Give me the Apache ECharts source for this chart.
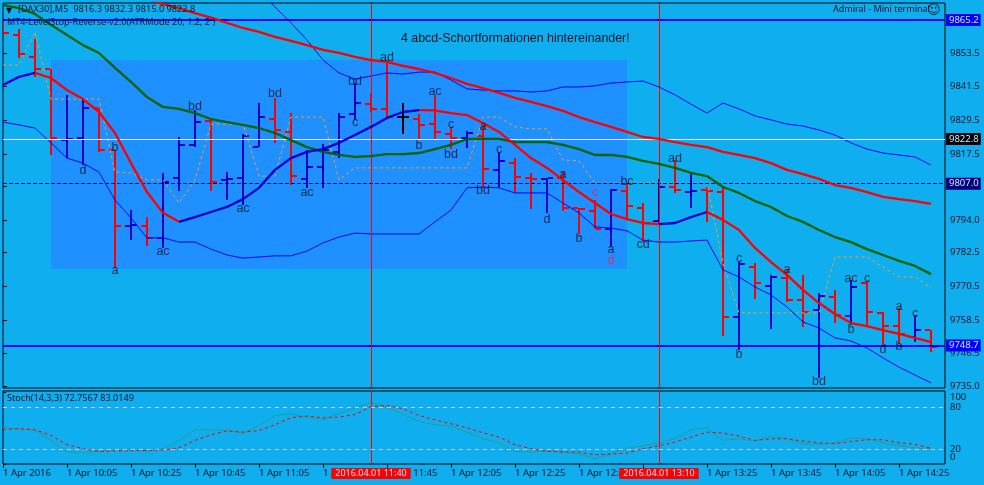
<!DOCTYPE html>
<html><head><meta charset="utf-8">
<style>html,body{margin:0;padding:0;background:#0FAEEE}#c{width:984px;height:485px}</style>
<script src="https://cdn.jsdelivr.net/npm/echarts@6/dist/echarts.min.js"></script>
</head><body><div id="c"></div>
<script>
const opens=[9862.4,9859.9,9852.1,9847.8,9822.5,9823.2,9833.9,9819.0,9791.9,9791.9,
9787.7,9809.0,9820.8,9829.3,9808.3,9809.0,9820.0,9830.0,9825.4,9808.7,
9812.9,9818.3,9831.8,9835.3,9833.6,9830.7,9830.0,9828.2,9824.7,9823.2,
9824.0,9811.9,9814.3,9809.0,9808.7,9809.0,9798.3,9797.3,9790.9,9804.4,
9798.3,9793.7,9805.8,9804.2,9804.7,9804.0,9759.5,9777.3,9770.6,9773.4,
9765.6,9762.0,9766.7,9759.9,9771.6,9761.0,9756.3,9752.4,9754.9];
const highs=[9864.5,9862.0,9858.5,9847.8,9838.6,9837.5,9833.9,9819.0,9797.6,9795.1,
9810.8,9823.6,9833.2,9829.7,9811.1,9824.7,9835.7,9837.5,9832.1,9819.0,
9821.1,9832.1,9842.8,9839.3,9851.0,9835.7,9831.8,9838.6,9827.2,9825.7,
9827.9,9818.3,9816.1,9810.8,9809.0,9811.1,9798.3,9801.2,9805.1,9807.2,
9800.1,9808.7,9815.4,9810.8,9805.8,9805.8,9779.1,9778.8,9774.5,9776.3,
9774.5,9768.1,9769.2,9772.7,9772.4,9761.3,9762.7,9760.3,9754.9];
const lows=[9859.9,9851.7,9845.0,9817.2,9816.1,9813.6,9818.3,9777.0,9786.9,9784.8,
9784.1,9804.4,9820.0,9804.4,9801.2,9799.4,9820.0,9821.5,9806.5,9805.5,
9805.5,9816.1,9829.7,9832.5,9830.7,9824.7,9822.5,9822.9,9819.3,9819.7,
9805.5,9805.8,9804.0,9798.0,9796.6,9797.3,9789.1,9790.9,9784.5,9794.4,
9786.2,9792.3,9803.7,9798.3,9793.4,9752.8,9747.8,9766.0,9755.3,9764.9,
9756.0,9737.8,9757.4,9756.7,9756.3,9748.9,9750.3,9750.6,9747.1];
const closes=[9860.6,9853.1,9847.8,9823.2,9822.9,9833.9,9819.0,9791.9,9792.3,9787.7,
9807.6,9820.8,9828.9,9807.6,9808.7,9824.0,9830.7,9826.1,9809.7,9812.9,
9819.0,9830.7,9835.7,9833.6,9830.7,9830.7,9827.9,9825.4,9823.2,9825.0,
9812.2,9815.1,9809.4,9808.7,9809.0,9798.3,9798.1,9790.9,9804.7,9799.0,
9793.0,9805.8,9804.7,9804.4,9804.5,9759.5,9778.4,9771.6,9773.8,9765.6,
9761.3,9767.0,9760.3,9770.2,9761.3,9756.3,9753.5,9754.9,9748.9];
const emaFast=[9842.1,9845.0,9846.4,9844.6,9840.3,9837.1,9832.5,9825.0,9814.3,9804.0,
9796.6,9793.4,9795.1,9796.9,9798.7,9801.5,9805.5,9811.9,9816.1,9818.3,
9819.3,9821.5,9824.3,9827.2,9830.4,9832.5,9833.2,9833.1,9832.1,9831.4,
9828.6,9825.4,9820.8,9816.1,9812.6,9808.3,9804.0,9800.1,9796.2,9794.4,
9793.0,9792.6,9793.0,9795.1,9796.9,9794.1,9790.5,9784.1,9779.1,9774.5,
9769.2,9764.5,9760.6,9757.4,9756.3,9754.9,9753.5,9752.1,9750.6];
const maGreen=[9870.6,9869.5,9867.4,9863.5,9859.9,9856.3,9853.5,9848.2,9843.2,9837.8,
9834.3,9833.6,9832.1,9830.0,9828.9,9827.9,9826.8,9825.0,9822.5,9820.0,
9818.3,9817.2,9816.5,9816.8,9817.5,9817.5,9817.9,9819.3,9820.8,9822.9,
9822.9,9822.9,9821.8,9821.8,9821.8,9820.8,9819.3,9817.2,9817.2,9816.5,
9815.1,9814.0,9812.6,9810.8,9809.7,9805.8,9803.7,9800.8,9798.7,9795.5,
9793.4,9790.5,9788.0,9786.2,9783.7,9781.6,9779.5,9777.7,9774.8];
const maRed=[null,null,null,null,null,null,null,null,null,9872.7,
9870.9,9869.5,9867.7,9866.1,9864.2,9862.4,9861.0,9859.2,9857.8,9856.3,
9854.6,9853.5,9852.1,9851.0,9850.3,9848.9,9847.8,9846.4,9844.6,9842.5,
9841.0,9839.3,9837.5,9836.1,9834.6,9832.9,9830.7,9828.9,9827.2,9825.4,
9823.6,9822.9,9821.8,9820.8,9820.0,9818.3,9817.2,9816.1,9814.3,9811.9,
9810.4,9808.7,9806.5,9805.5,9804.0,9802.3,9801.5,9800.8,9799.8];
const bandUpper=[null,null,null,null,null,null,null,null,null,null,
null,null,null,null,null,null,9875.2,9869.9,9864.2,9858.1,
9851.0,9846.4,9844.2,9845.3,9846.4,9846.0,9846.7,9846.7,9843.9,9840.7,
9840.3,9840.0,9840.0,9839.6,9840.0,9841.4,9841.4,9841.8,9842.8,9843.2,
9843.5,9841.4,9838.6,9835.3,9832.1,9835.7,9833.6,9831.1,9829.7,9828.2,
9827.5,9826.1,9824.3,9821.5,9819.3,9817.9,9817.2,9816.5,9813.6];
const bandLower=[9828.9,9827.9,9826.8,9821.5,9816.1,9814.3,9811.1,9801.2,9794.8,9787.7,
9787.7,9786.2,9786.2,9783.7,9781.6,9780.5,9780.9,9781.3,9781.3,9783.0,
9785.9,9788.0,9789.4,9789.1,9789.1,9789.1,9789.1,9793.4,9797.6,9805.5,
9805.8,9805.5,9803.7,9803.7,9803.7,9800.1,9796.6,9791.6,9791.2,9790.2,
9786.9,9786.2,9786.2,9786.6,9786.9,9776.3,9773.8,9770.2,9767.4,9763.1,
9757.8,9755.6,9752.1,9751.0,9748.5,9745.0,9741.7,9738.9,9736.1];
const stopLine=[9849.2,9849.2,9861.0,9837.1,9837.1,9837.1,9837.1,9811.1,9810.8,9808.3,
9808.3,9800.1,9808.3,9828.2,9828.2,9828.2,9809.7,9809.7,9830.7,9830.7,
9830.7,9808.3,9812.6,9812.6,9812.6,9812.6,9812.6,9812.6,9812.6,9812.6,
9830.7,9830.7,9827.2,9826.5,9826.5,9815.4,9815.1,9807.2,9807.2,9807.2,
9807.2,9807.2,9807.2,9807.2,9807.2,9778.8,9761.0,9761.0,9761.0,9761.0,
9761.0,9761.0,9780.9,9780.9,9780.9,9777.3,9773.8,9773.8,9769.9];
const stochSignal=[48.5,49.4,48.0,40.1,27.0,21.4,17.6,18.1,18.6,19.0,
19.5,22.8,33.1,41.0,46.2,44.7,47.1,55.0,64.9,67.2,
64.9,65.8,69.5,80.3,82.1,77.5,68.1,62.0,56.4,50.8,
43.8,37.7,27.0,21.4,17.6,16.7,16.7,13.0,13.9,15.3,
21.4,25.6,30.7,37.7,44.7,43.3,39.1,33.1,35.4,35.4,
32.1,29.8,28.4,31.7,34.0,34.0,29.8,27.5,22.3];
const stochMain=[50.8,49.4,47.1,33.1,16.7,15.3,18.1,20.0,20.0,17.6,
21.4,33.1,48.0,48.0,47.1,43.3,54.1,68.1,70.5,65.8,
62.0,70.5,78.9,85.9,79.8,69.5,59.7,55.0,53.2,44.7,
35.4,29.8,17.6,16.7,19.0,16.7,14.4,7.4,14.4,21.4,
26.0,29.3,35.4,48.0,50.8,33.1,35.4,32.1,39.1,35.4,
28.4,27.5,29.8,36.8,35.4,29.8,26.0,22.8,21.4];
const noteText=['d','b','a','ac','bd','bd','ac','ac','bd','c','ad','b','ac','c','bd','a','bd','c','d','a','b','c','a','d','bc','cd','ad','c','b','a','bd','ac','b','c','d','a','b','c'];
const noteBar=[5,7,7,10,12,17,15,19,22,22,24,26,27,28,28,30,30,31,34,35,36,37,38,38,39,40,42,46,46,49,51,53,53,54,55,56,56,57];
const notePrice=[9811.5,9819.7,9775.9,9783.0,9834.3,9838.9,9798.3,9803.7,9843.2,9828.6,9851.7,9820.4,9839.6,9828.2,9817.2,9827.2,9804.4,9819.0,9794.1,9810.4,9787.3,9803.7,9783.7,9779.5,9807.6,9785.2,9815.8,9780.2,9746.0,9776.6,9736.4,9773.4,9754.9,9773.1,9747.8,9763.1,9749.2,9760.6];
const notePink=[21,23];
const tickLabels=['1 Apr 2016','1 Apr 10:05','1 Apr 10:25','1 Apr 10:45','1 Apr 11:05','1 Apr 11:25','1 Apr 11:45','1 Apr 12:05','1 Apr 12:25','1 Apr 12:45','1 Apr 13:05','1 Apr 13:25','1 Apr 13:45','1 Apr 14:05','1 Apr 14:25'];
const priceTicks=[9853.5,9841.5,9829.5,9817.5,9806.0,9794.0,9782.5,9770.5,9758.5,9746.5,9735.0];
const stochTicks=[100,80,20,0];
const stochLevels=[80,20];
const timeMarks=[[23,'2016.04.01 11:40'],[41,'2016.04.01 13:10']];
const priceLevels=[[9865.2,'#0000FF','solid',2,'#0000FF','9865.2'],[9822.9,'#E4E8EC','solid',1,'#000000','9822.8'],[9807.0,'#000080','dashed',1,'#000080','9807.0'],[9749.4,'#0000FF','solid',2,'#0000FF','9748.7']];
const zoneBars=[3,39], zonePrices=[9851.0,9776.6];

const TXT='Noto Sans', BG='#0FAEEE';
const idx=a=>a.map((v,i)=>[i,v]);
const up=emaFast.map((v,i)=>((i>0&&v>=emaFast[i-1])||(i<emaFast.length-1&&emaFast[i+1]>=v))?v:null);
const dn=emaFast.map((v,i)=>((i>0&&v<emaFast[i-1])||(i<emaFast.length-1&&emaFast[i+1]<v))?v:null);
const plain=(name,d,color,width,z,type,xi)=>({type:'line',name,data:idx(d),xAxisIndex:xi||0,yAxisIndex:xi||0,symbol:'none',silent:true,z,
  lineStyle:{color,width,type:type||'solid'},connectNulls:false});
const vline=(xi,withLabel)=>({xAxisIndex:xi,yAxisIndex:xi,type:'line',data:[],silent:true,z:2,
  markLine:{silent:true,symbol:'none',animation:false,data:timeMarks.map(t=>({xAxis:t[0],name:t[1]})),
    lineStyle:{color:'#FF0000',width:1,type:'solid'},
    label:withLabel?{show:true,position:'start',distance:4,formatter:p=>p.name,color:'#CFE6FF',backgroundColor:'#FF0000',padding:[1,4,1,4],fontSize:9,fontFamily:TXT}:{show:false}}});
const lab={color:'#001428',fontSize:9.5,fontFamily:TXT};

const chart=echarts.init(document.getElementById('c'),null,{renderer:'canvas'});
chart.setOption({
 animation:false,backgroundColor:BG,
 grid:[{left:3,top:3,width:942,height:385,show:true,borderColor:'#000',borderWidth:1,backgroundColor:'transparent',outerBoundsMode:'none'},
       {left:3,top:391,width:942,height:73,show:true,borderColor:'#000',borderWidth:1,backgroundColor:'transparent',outerBoundsMode:'none'}],
 xAxis:[{type:'value',gridIndex:0,min:0,max:58.875,axisLabel:{show:false},axisTick:{show:false},axisLine:{show:false},splitLine:{show:false}},
        {type:'value',gridIndex:1,min:0,max:58.875,splitLine:{show:false},axisLine:{show:false},
         axisTick:{show:true,length:4,inside:false,customValues:tickLabels.map((_,i)=>i*4),lineStyle:{color:'#000'}},
         axisLabel:{show:true,customValues:tickLabels.map((_,i)=>i*4),align:'left',margin:4,...lab,hideOverlap:false,formatter:v=>tickLabels[Math.round(v/4)]}}],
 yAxis:[{type:'value',gridIndex:0,position:'right',min:9734.27,max:9871.29,splitLine:{show:false},axisLine:{show:false},
         axisTick:{show:true,length:4,customValues:priceTicks,lineStyle:{color:'#000'}},
         axisLabel:{show:true,customValues:priceTicks,margin:5,...lab,formatter:v=>v.toFixed(1)}},
        {type:'value',gridIndex:1,position:'right',min:0,max:102.4,splitLine:{show:false},axisLine:{show:false},
         axisTick:{show:true,length:3,customValues:stochTicks,lineStyle:{color:'#000'}},
         axisLabel:{show:true,customValues:stochLevels,margin:5,...lab,formatter:v=>''+v}}],
 series:[
  {type:'line',data:[],silent:true,z:1,markArea:{silent:true,animation:false,itemStyle:{color:'#1E90FF',opacity:1},
    data:[[{xAxis:zoneBars[0],yAxis:zonePrices[0]},{xAxis:zoneBars[1],yAxis:zonePrices[1]}]]}},
  {type:'line',data:[],silent:true,z:2,markLine:{silent:true,symbol:'none',animation:false,
    data:priceLevels.map(l=>({yAxis:l[0],lineStyle:{color:l[1],type:l[2],width:l[3]},
      label:{show:true,position:'end',distance:1,formatter:l[5],color:'#CFE6FF',backgroundColor:l[4],padding:[1,2,1,3],fontSize:9.5,fontFamily:TXT}}))}},
  vline(0,false),
  {type:'custom',name:'ohlc',data:opens.map((o,i)=>[i,o,highs[i],lows[i],closes[i]]),encode:{x:0,y:[1,2,3,4]},z:3,silent:true,clip:true,
   renderItem:(p,api)=>{
     const k=api.value(0),o=api.value(1),h=api.value(2),l=api.value(3),c=api.value(4);
     const col=c===o?'#000000':(c>o?'#0000CD':'#FF0000');
     const X=Math.round(api.coord([k,o])[0]);
     const Y=v=>Math.round(api.coord([k,v])[1]);
     const r=(x,y,w,hh)=>({type:'rect',shape:{x,y,width:w,height:hh},style:{fill:col}});
     return {type:'group',children:[r(X-1,Y(h),2,Math.max(Y(l)-Y(h),1)),r(X-6,Y(o)-1,5,2),r(X+1,Y(c)-1,5,2)]};
   }},
  plain('stop',stopLine,'#F0A020',1,4,[3,3]),
  plain('upper',bandUpper,'#0000FF',1,4),
  plain('lower',bandLower,'#0000FF',1,4),
  plain('maRed',maRed,'#FF0000',2.3,5),
  plain('maGreen',maGreen,'#006400',2.3,5),
  plain('emaUp',up,'#0000CD',2.3,5),
  plain('emaDown',dn,'#FF0000',2.3,5),
  {type:'scatter',data:noteText.map((t,i)=>({value:[noteBar[i],notePrice[i]],name:t,
      label:{color:notePink.includes(i)?'#F02050':'#001428'}})),symbolSize:0,z:6,silent:true,clip:false,
   label:{show:true,position:'inside',offset:[0,1],formatter:p=>p.name,fontSize:12.5,fontFamily:'Liberation Sans'},labelLayout:{hideOverlap:false}},
  vline(1,true),
  {type:'line',xAxisIndex:1,yAxisIndex:1,data:[],silent:true,z:2,markLine:{silent:true,symbol:'none',animation:false,
    data:stochLevels.map(v=>({yAxis:v})),label:{show:false},lineStyle:{color:'#C8D4DC',width:1,type:[4,4]}}},
  plain('stochMain',stochMain,'#20A090',1,4,'solid',1),
  plain('stochSignal',stochSignal,'#FF0000',1,5,[3,3],1)
 ],
 graphic:[
  {type:'text',left:6,top:7,z:20,style:{text:'▼',font:'8px "DejaVu Sans"',fill:'#001428'}},
  {type:'text',left:18,top:5,z:20,style:{text:'[DAX30],M5  9816.3 9832.3 9815.0 9822.8',font:'9.2px "Noto Sans"',fill:'#001428'}},
  {type:'text',left:7,top:18,z:20,style:{text:'MT4-LevelStop-Reverse-v2.0(ATRMode 20, 1.2, 2 )',font:'9.1px "Noto Sans"',fill:'#001428'}},
  {type:'text',left:833,top:5,z:20,style:{text:'Admiral - Mini terminal',font:'9px "Noto Sans"',fill:'#001428'}},
  {type:'text',left:927,top:4,z:20,style:{text:'☺',font:'13px "DejaVu Sans"',fill:'#001428'}},
  {type:'text',left:401,top:33,z:20,style:{text:'4 abcd-Schortformationen hintereinander!',font:'12.4px "Liberation Sans"',fill:'#001428'}},
  {type:'text',left:7,top:394,z:20,style:{text:'Stoch(14,3,3) 72.7567 83.0149',font:'9.1px "Noto Sans"',fill:'#001428'}},
  {type:'text',left:950,top:392,z:20,style:{text:'100',font:'9.5px "Noto Sans"',fill:'#001428'}},
  {type:'text',left:950,top:452,z:20,style:{text:'0',font:'9.5px "Noto Sans"',fill:'#001428'}}
 ]
});
</script></body></html>
